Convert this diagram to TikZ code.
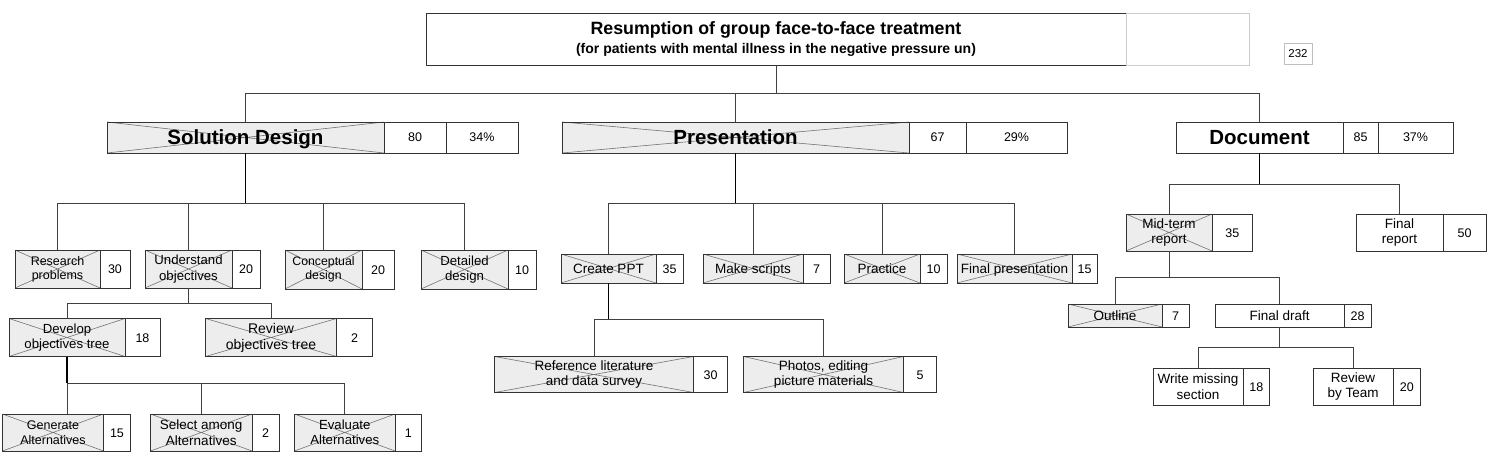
\documentclass[tikz,border=0pt]{standalone}
\usepackage{fontspec}
\setmainfont{Liberation Sans}
\usetikzlibrary{positioning}

\begin{document}
\begin{tikzpicture}[x=1pt, y=-1pt,
    every node/.style={inner sep=0pt, outer sep=0pt, align=center},
    cell/.style={rectangle, draw=black!80, line width=0.8pt, fill=white,
                 font=\fontsize{13.2}{15.5}\selectfont},
    xcell/.style={cell, fill=black!7,
                  path picture={\draw[black!55, line width=0.6pt]
                    (path picture bounding box.north west) -- (path picture bounding box.south east)
                    (path picture bounding box.south west) -- (path picture bounding box.north east);}},
    oneline/.style={text height=11pt, text depth=1.3pt},
    num/.style={cell, text height=10.5pt, text depth=1.5pt, font=\fontsize{12.5}{14}\selectfont},
    head/.style={text height=17pt, text depth=2.3pt, font=\fontsize{20.5}{24}\selectfont\bfseries, minimum height=31pt},
    link/.style={draw=black!75, line width=0.8pt},
    trunk/.style={draw=black, line width=1.5pt}
]
\useasboundingbox (0,0) rectangle (1506,468);

% title
\node[cell, anchor=north west, minimum width=700pt, minimum height=52pt] (title) at (426,13)
    {{\fontsize{17.8}{20}\selectfont\bfseries Resumption of group face-to-face treatment}\\[3.5pt]
     {\fontsize{14}{15}\selectfont\bfseries (for patients with mental illness in the negative pressure un)}};
\node[cell, draw=black!20, minimum width=123pt, minimum height=52pt, right=0pt of title] (titlex) {};
\node[num, draw=black!25, font=\fontsize{11.5}{13}\selectfont, minimum width=28pt, minimum height=21pt,
      anchor=north west] (total) at (1284,43) {232};

% level 1
\node[xcell, head, anchor=north west, minimum width=277pt] (sd) at (107,122) {Solution Design};
\node[num, minimum width=62pt, minimum height=31pt, right=0pt of sd] (sdn) {80};
\node[num, minimum width=72pt, minimum height=31pt, right=0pt of sdn] (sdp) {34\%};

\node[xcell, head, anchor=north west, minimum width=347pt] (pr) at (562,122) {Presentation};
\node[num, minimum width=57pt, minimum height=31pt, right=0pt of pr] (prn) {67};
\node[num, minimum width=101pt, minimum height=31pt, right=0pt of prn] (prp) {29\%};

\node[cell, head, anchor=north west, minimum width=167pt] (doc) at (1176,122) {Document};
\node[num, minimum width=35pt, minimum height=31pt, right=0pt of doc] (docn) {85};
\node[num, minimum width=75pt, minimum height=31pt, right=0pt of docn] (docp) {37\%};

% solution design
\node[xcell, font=\fontsize{12.5}{14}\selectfont, anchor=north west, minimum width=85pt, minimum height=38pt] (res) at (15,250) {Research\\problems};
\node[num, minimum width=30pt, minimum height=38pt, right=0pt of res] (resn) {30};
\node[xcell, anchor=north west, minimum width=87pt, minimum height=38pt] (und) at (145,250) {Understand\\objectives};
\node[num, minimum width=28pt, minimum height=38pt, right=0pt of und] (undn) {20};
\node[xcell, font=\fontsize{12.3}{14}\selectfont, anchor=north west, minimum width=77pt, minimum height=39pt] (con) at (285,250) {Conceptual\\design};
\node[num, minimum width=32pt, minimum height=39pt, right=0pt of con] (conn) {20};
\node[xcell, anchor=north west, minimum width=87pt, minimum height=39pt] (det) at (421,250) {Detailed\\design};
\node[num, minimum width=28pt, minimum height=39pt, right=0pt of det] (detn) {10};

\node[xcell, anchor=north west, minimum width=116pt, minimum height=38pt] (dev) at (9,318.5) {Develop\\objectives tree};
\node[num, minimum width=35pt, minimum height=38pt, right=0pt of dev] (devn) {18};
\node[xcell, font=\fontsize{14}{16}\selectfont, anchor=north west, minimum width=131pt, minimum height=38pt] (rev) at (205.5,318.5) {Review\\objectives tree};
\node[num, minimum width=36pt, minimum height=38pt, right=0pt of rev] (revn) {2};

\node[xcell, font=\fontsize{12.5}{14.5}\selectfont, anchor=north west, minimum width=101pt, minimum height=37pt] (gen) at (2.5,414) {Generate\\Alternatives};
\node[num, minimum width=27pt, minimum height=37pt, right=0pt of gen] (genn) {15};
\node[xcell, font=\fontsize{13.5}{15.5}\selectfont, anchor=north west, minimum width=101.5pt, minimum height=37pt] (sel) at (150.5,414) {Select among\\Alternatives};
\node[num, minimum width=27pt, minimum height=37pt, right=0pt of sel] (seln) {2};
\node[xcell, anchor=north west, minimum width=100.5pt, minimum height=37pt] (eva) at (294.5,414) {Evaluate\\Alternatives};
\node[num, minimum width=26.5pt, minimum height=37pt, right=0pt of eva] (evan) {1};

% presentation
\node[xcell, oneline, font=\fontsize{13.5}{15}\selectfont, anchor=north west, minimum width=95pt, minimum height=29pt] (ppt) at (561,254) {Create PPT};
\node[num, minimum width=27pt, minimum height=29pt, right=0pt of ppt] (pptn) {35};
\node[xcell, oneline, font=\fontsize{13.5}{15}\selectfont, anchor=north west, minimum width=100pt, minimum height=29pt] (scr) at (703,254) {Make scripts};
\node[num, minimum width=27pt, minimum height=29pt, right=0pt of scr] (scrn) {7};
\node[xcell, oneline, font=\fontsize{13.5}{15}\selectfont, anchor=north west, minimum width=76pt, minimum height=29pt] (pra) at (844,254) {Practice};
\node[num, minimum width=27pt, minimum height=29pt, right=0pt of pra] (pran) {10};
\node[xcell, oneline, font=\fontsize{13.5}{15}\selectfont, anchor=north west, minimum width=115pt, minimum height=29pt] (fin) at (957,254) {Final presentation};
\node[num, minimum width=25pt, minimum height=29pt, right=0pt of fin] (finn) {15};

\node[xcell, font=\fontsize{13.5}{15}\selectfont, anchor=north west, minimum width=199pt, minimum height=36pt] (ref) at (494.5,356.5) {Reference literature\\and data survey};
\node[num, minimum width=34pt, minimum height=36pt, right=0pt of ref] (refn) {30};
\node[xcell, font=\fontsize{13.5}{15}\selectfont, anchor=north west, minimum width=160pt, minimum height=36pt] (pho) at (743.5,356.5) {Photos, editing\\picture materials};
\node[num, minimum width=33pt, minimum height=36pt, right=0pt of pho] (phon) {5};

% document
\node[xcell, font=\fontsize{13.5}{15}\selectfont, anchor=north west, minimum width=86pt, minimum height=37pt] (mid) at (1126,214) {Mid-term\\report};
\node[num, minimum width=40.5pt, minimum height=37pt, right=0pt of mid] (midn) {35};
\node[cell, font=\fontsize{13.5}{15}\selectfont, anchor=north west, minimum width=87pt, minimum height=37pt] (frep) at (1356,214) {Final\\report};
\node[num, minimum width=43pt, minimum height=37pt, right=0pt of frep] (frepn) {50};

\node[xcell, oneline, font=\fontsize{13.5}{15}\selectfont, anchor=north west, minimum width=94pt, minimum height=23pt] (out) at (1068,304) {Outline};
\node[num, minimum width=27pt, minimum height=23pt, right=0pt of out] (outn) {7};
\node[cell, oneline, font=\fontsize{13.5}{15}\selectfont, anchor=north west, minimum width=129pt, minimum height=23pt] (fdr) at (1215,304) {Final draft};
\node[num, minimum width=27pt, minimum height=23pt, right=0pt of fdr] (fdrn) {28};

\node[cell, font=\fontsize{13.5}{15.5}\selectfont, anchor=north west, minimum width=90pt, minimum height=37pt] (wri) at (1153,368) {Write missing\\section};
\node[num, minimum width=26.5pt, minimum height=37pt, right=0pt of wri] (wrin) {18};
\node[cell, font=\fontsize{13.5}{15.5}\selectfont, anchor=north west, minimum width=80pt, minimum height=37pt] (rbt) at (1313,368) {Review\\by Team};
\node[num, minimum width=27.5pt, minimum height=37pt, right=0pt of rbt] (rbtn) {20};

% connectors
\draw[link] (title.south) -- ++(0,28) coordinate (j0);
\draw[link] (j0) -| (sd.north);
\draw[link] (j0) -| (pr.north);
\draw[link] (j0) -| (doc.north);

\draw[trunk] (sd.south) -- ++(0,50) coordinate (j1);
\draw[link] (j1) -| (res.north);
\draw[link] (j1) -| (und.north);
\draw[link] (j1) -| (con.north);
\draw[link] (j1) -| (det.north);

\draw[link] (und.south) -- ++(0,15) coordinate (j2);
\draw[link] (j2) -| (dev.north);
\draw[link] (j2) -| (rev.north);

\draw[trunk] (dev.south) -- ++(0,26.5) coordinate (j3);
\draw[link] (j3) -- (gen.north -| dev.south);
\draw[link] (j3) -| (sel.north);
\draw[link] (j3) -| (eva.north);

\draw[trunk] (pr.south) -- ++(0,50) coordinate (j4);
\draw[link] (j4) -| (ppt.north);
\draw[link] (j4) -| (scr.north);
\draw[link] (j4) -| (pra.north);
\draw[link] (j4) -| (fin.north);

\draw[trunk] (ppt.south) -- ++(0,36) coordinate (j5);
\draw[link] (j5) -| (ref.north);
\draw[link] (j5) -| (pho.north);

\draw[trunk] (doc.south) -- ++(0,31) coordinate (j6);
\draw[link] (j6) -| (mid.north);
\draw[link] (j6) -| (frep.north);

\draw[link] (mid.south) -- ++(0,26.5) coordinate (j7);
\draw[link] (j7) -| (out.north);
\draw[link] (j7) -| (fdr.north);

\draw[link] (fdr.south) -- ++(0,20.5) coordinate (j8);
\draw[link] (j8) -| (wri.north);
\draw[link] (j8) -| (rbt.north);
\end{tikzpicture}
\end{document}
